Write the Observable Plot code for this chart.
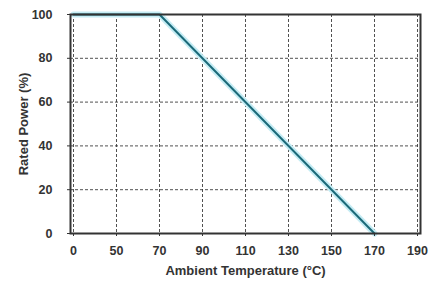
<!DOCTYPE html>
<html><head><meta charset="utf-8">
<script src="https://cdn.jsdelivr.net/npm/d3@7"></script>
<script src="https://cdn.jsdelivr.net/npm/@observablehq/plot@0.6"></script>
<style>body{margin:0;background:#fff}</style>
</head><body><div id="chart"></div>
<script>
const xTicks = [0, 50, 70, 90, 110, 130, 150, 170, 190];
const yTicks = [0, 20, 40, 60, 80, 100];
const temps = [0, 70, 170];
const power = [100, 100, 0];
const data = temps.map((t, i) => ({t, p: power[i]}));

const chart = Plot.plot({
  width: 431, height: 283,
  marginLeft: 70, marginRight: 11, marginTop: 14, marginBottom: 50,
  style: {fontFamily: "'Liberation Sans', Arial, sans-serif", fontSize: "12.5px", fontWeight: "bold", color: "#333", background: "#fff"},
  x: {type: "point", domain: xTicks, padding: 0},
  y: {domain: [0, 100]},
  marks: [
    Plot.gridX(xTicks, {stroke: "#333", strokeOpacity: 0.85, strokeDasharray: "3,2", strokeWidth: 1}),
    Plot.gridY(yTicks, {stroke: "#333", strokeOpacity: 0.85, strokeDasharray: "3,2", strokeWidth: 1}),
    Plot.line(data, {x: "t", y: "p", stroke: "#c4ecf4", strokeWidth: 6}),
    Plot.line(data, {x: "t", y: "p", stroke: "#1b6a79", strokeWidth: 2}),
    Plot.frame({stroke: "#333", strokeWidth: 2}),
    Plot.axisX(xTicks, {tickSize: 3, tickPadding: 10, label: null, stroke: "#333"}),
    Plot.axisY(yTicks, {tickSize: 3, tickPadding: 15, label: null, stroke: "#333"}),
    Plot.axisX({anchor: "bottom", ticks: [], label: "Ambient Temperature (°C)", labelAnchor: "center", labelArrow: "none", labelOffset: 41, fontSize: 13}),
    Plot.axisY({anchor: "left", ticks: [], label: "Rated Power (%)", labelAnchor: "center", labelArrow: "none", labelOffset: 52, fontSize: 13})
  ]
});
document.getElementById("chart").appendChild(chart);
</script>
</body></html>
